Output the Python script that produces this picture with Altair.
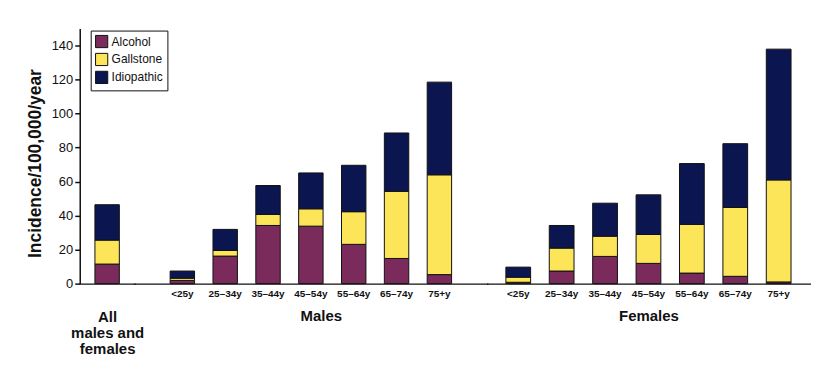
import altair as alt
import pandas as pd

causes = ["Alcohol", "Gallstone", "Idiopathic"]
cause_colors = ["#7a2a5b", "#fde55a", "#0b1550"]
age_groups = ["<25y", "25–34y", "35–44y", "45–54y", "55–64y", "65–74y", "75+y"]

all_alcohol = [11.5]
all_gallstone = [14.1]
all_idiopathic = [20.8]

male_alcohol = [1.9, 16.2, 34.2, 33.8, 23.1, 14.8, 5.3]
male_gallstone = [1.3, 3.3, 6.5, 10.2, 19.2, 39.5, 58.7]
male_idiopathic = [4.2, 12.4, 17.0, 21.1, 27.3, 34.3, 54.5]

female_alcohol = [0.8, 7.4, 16.0, 11.9, 6.2, 4.3, 1.0]
female_gallstone = [3.0, 13.5, 11.9, 17.0, 28.6, 40.5, 60.0]
female_idiopathic = [5.9, 13.3, 19.4, 23.3, 35.8, 37.5, 76.9]

group_titles = [["All", "males and", "females"], "Males", "Females"]
y_ticks = [0, 20, 40, 60, 80, 100, 120, 140]


def frame(cats, alc, gal, idio):
    rows = []
    for i, c in enumerate(cats):
        for k, (name, vals) in enumerate(zip(causes, [alc, gal, idio])):
            rows.append({"category": c, "cause": name, "value": vals[i], "order": k})
    return pd.DataFrame(rows)


df_all = frame(["All"], all_alcohol, all_gallstone, all_idiopathic)
df_m = frame(age_groups, male_alcohol, male_gallstone, male_idiopathic)
df_f = frame(age_groups, female_alcohol, female_gallstone, female_idiopathic)

FONT = "Liberation Sans"
H = 256
color = alt.Color(
    "cause:N",
    scale=alt.Scale(domain=causes, range=cause_colors),
    legend=alt.Legend(
        title=None,
        orient="none",
        legendX=11,
        legendY=2,
        direction="vertical",
        symbolType="square",
        symbolSize=150,
        symbolStrokeColor="#111111",
        symbolStrokeWidth=1,
        symbolOpacity=1,
        labelFont=FONT,
        labelFontSize=12,
        labelColor="#111111",
        rowPadding=0,
        padding=4,
        strokeColor="#111111",
        fillColor="white",
        labelOffset=3,
    ),
)


def panel(data, cats, title, width, po, show_y, title_pad, title_x=None):
    xaxis = dict(
        title=title,
        labelFont=FONT,
        labelFontSize=10,
        labelFontWeight="bold",
        labelColor="#111111",
        labelAngle=0,
        labelPadding=5,
        ticks=False,
        domainColor="#111111",
        domainWidth=1.5,
        domainCap="square",
        titleFont=FONT,
        titleFontSize=15,
        titleFontWeight="bold",
        titleColor="#111111",
        titlePadding=title_pad,
        titleLineHeight=16,
    )
    if title_x is not None:
        xaxis["titleX"] = title_x
    if cats == ["All"]:
        xaxis["labels"] = False
    if show_y:
        yaxis = alt.Axis(
            title="Incidence/100,000/year",
            values=y_ticks,
            labelFont=FONT,
            labelFontSize=13,
            labelColor="#111111",
            tickColor="#111111",
            tickSize=5,
            tickWidth=1.5,
            domainColor="#111111",
            domainWidth=1.5,
            titleFont=FONT,
            titleFontSize=17.5,
            titleFontWeight="bold",
            titleColor="#111111",
            titlePadding=7,
            titleY=135,
            grid=False,
        )
    else:
        yaxis = None
    return (
        alt.Chart(data)
        .mark_bar(stroke="#111111", strokeWidth=1)
        .encode(
            x=alt.X(
                "category:N",
                sort=cats,
                scale=alt.Scale(paddingInner=0.43, paddingOuter=po),
                axis=alt.Axis(**xaxis),
            ),
            y=alt.Y(
                "value:Q",
                stack="zero",
                scale=alt.Scale(domain=[0, 150], nice=False),
                axis=yaxis,
            ),
            color=color,
            order=alt.Order("order:Q"),
        )
        .properties(width=width, height=H)
    )


pa = panel(df_all, ["All"], group_titles[0], 55, 0.3547, True, 26)
pb = panel(df_m, age_groups, group_titles[1], 354, 0.831, False, 10, 187)
pc = panel(df_f, age_groups, group_titles[2], 323.7, 0.43, False, 10)

chart = (
    alt.hconcat(pa, pb, pc, spacing=0, bounds="flush")
    .properties(padding={"top": 20, "left": 18, "right": 2, "bottom": 2}, background="white")
    .configure_view(stroke=None)
)

chart.save("out.html", embed_options={"renderer": "svg", "actions": False})
